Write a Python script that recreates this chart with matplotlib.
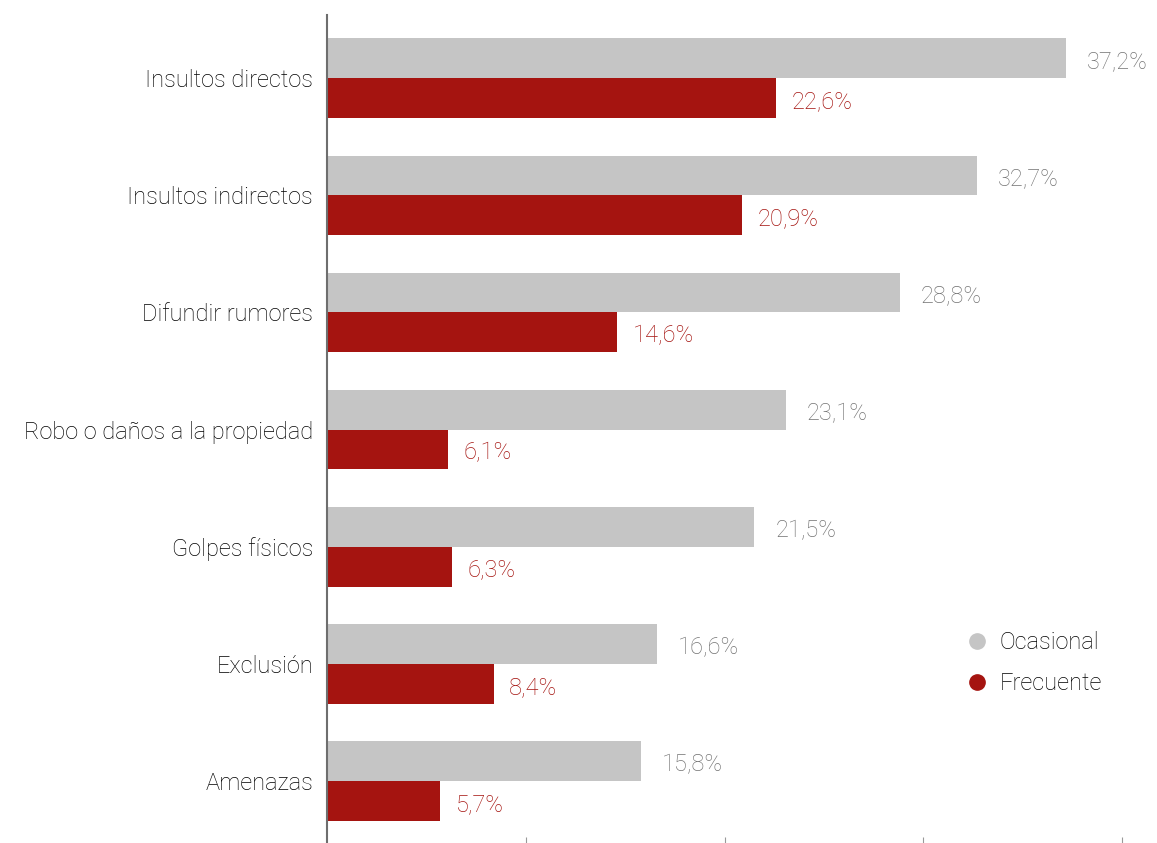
import matplotlib
matplotlib.use("Agg")
import matplotlib.pyplot as plt
from matplotlib.lines import Line2D
import numpy as np

categories = ["Insultos directos", "Insultos indirectos", "Difundir rumores",
              "Robo o daños a la propiedad", "Golpes físicos", "Exclusión", "Amenazas"]
ocasional = [37.2, 32.7, 28.8, 23.1, 21.5, 16.6, 15.8]
frecuente = [22.6, 20.9, 14.6, 6.1, 6.3, 8.4, 5.7]
series_names = ["Ocasional", "Frecuente"]
x_ticks = [10, 20, 30, 40]

GRAY = "#C5C5C5"
RED = "#A51410"
GRAY_TXT = "#737373"
FONT = ["Roboto", "DejaVu Sans"]
W = "light"
FS = 17

plt.rcParams['font.family'] = FONT

fig = plt.figure(figsize=(11.57, 8.43), dpi=100)
ax = fig.add_axes([327/1157, 0.0, (1146-327)/1157, (843-15)/843])

y = np.arange(len(categories))
h = 0.34
ax.barh(y - h/2, ocasional, height=h, color=GRAY)
ax.barh(y + h/2, frecuente, height=h, color=RED)

def fmt(v):
    return f"{v:.1f}".replace(".", ",") + "%"

for yi, v in zip(y, ocasional):
    ax.annotate(fmt(v), (v, yi - h/2), xytext=(15, -2.5), textcoords="offset points",
                va="center", ha="left", fontsize=FS, color=GRAY_TXT, fontweight=W)
for yi, v in zip(y, frecuente):
    ax.annotate(fmt(v), (v, yi + h/2), xytext=(11, -2.5), textcoords="offset points",
                va="center", ha="left", fontsize=FS, color=RED, fontweight=W)

ax.set_ylim(len(categories) - 1 + 0.53, -0.54)
ax.set_xlim(0, 41.2)
ax.set_yticks(y)
ax.set_yticklabels(categories, fontsize=FS, color="#000000", fontweight=W)
ax.tick_params(axis="y", length=0, pad=10)
ax.set_xticks(x_ticks)
ax.set_xticklabels([])
ax.tick_params(axis="x", direction="in", length=4, color="#999999", width=0.8)

for s in ["top", "right", "bottom"]:
    ax.spines[s].set_visible(False)
ax.spines["left"].set_color("#6e6e6e")
ax.spines["left"].set_linewidth(1.5)

handles = [Line2D([], [], marker="o", linestyle="none", markersize=11, color=GRAY),
           Line2D([], [], marker="o", linestyle="none", markersize=11, color=RED)]
leg = fig.legend(handles, series_names, loc="center left",
                 bbox_to_anchor=(942/1157, 1 - 663/843), frameon=False,
                 prop={"family": FONT, "size": FS, "weight": W},
                 handletextpad=0.35, labelspacing=0.75, handlelength=1.2)
for t in leg.get_texts():
    t.set_color("#000000")

fig.savefig("out.png", dpi=100)
